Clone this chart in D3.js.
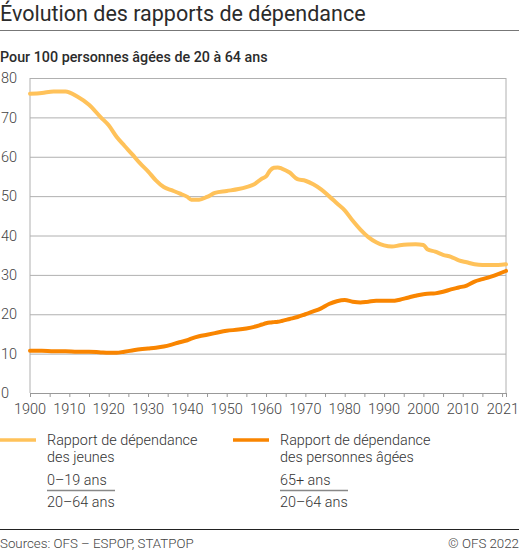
<!DOCTYPE html>
<html>
<head>
<meta charset="utf-8">
<script src="https://cdn.jsdelivr.net/npm/d3@7"></script>
<style>
  body { margin: 0; background: #fff; }
  svg { display: block; font-family: Roboto, "Noto Sans", sans-serif; }
</style>
</head>
<body>
<div id="chart"></div>
<script>
// years, with both ratios read at each
const years = [1900,1903,1906,1909,1912,1915,1918,1920,1922,1924,1926,1928,1930,1932,1934,1936,1938,1940,1941,1943,1945,1947,1950,1953,1955,1957,1959,1960,1961,1962,1963,1964,1966,1968,1970,1972,1974,1976,1978,1980,1982,1984,1986,1988,1990,1992,1994,1996,1998,2000,2001,2003,2005,2007,2009,2011,2013,2015,2017,2019,2021];
const jeunes = [76.0,76.2,76.6,76.6,75.3,73.2,70.0,68.0,65.1,62.8,60.6,58.3,56.3,54.0,52.3,51.5,50.7,49.8,49.1,49.1,49.8,50.8,51.3,51.8,52.3,53.0,54.5,55.0,56.5,57.2,57.3,57.0,56.0,54.3,53.9,53.0,51.7,50.0,48.2,46.4,43.8,41.5,39.6,38.3,37.5,37.2,37.5,37.7,37.8,37.6,36.5,35.9,35.1,34.6,33.7,33.2,32.7,32.5,32.5,32.5,32.7];
const agees = [10.7,10.7,10.6,10.6,10.5,10.5,10.3,10.2,10.2,10.5,10.8,11.1,11.3,11.5,11.8,12.3,12.9,13.4,13.8,14.4,14.8,15.2,15.8,16.1,16.4,16.8,17.4,17.7,17.9,18.0,18.1,18.3,18.8,19.3,20.0,20.7,21.5,22.6,23.3,23.6,23.2,23.0,23.2,23.4,23.4,23.4,23.7,24.2,24.7,25.1,25.2,25.3,25.7,26.3,26.8,27.3,28.3,28.9,29.5,30.2,31.0];

const yTicks = [0,10,20,30,40,50,60,70,80];
const xLabels = [1900,1910,1920,1930,1940,1950,1960,1970,1980,1990,2000,2010,2021];
const xMinor = d3.range(1900, 2021, 5);

const width = 519, height = 554;
const margin = { top: 78, right: 13, bottom: 161, left: 30 };

const svg = d3.select("#chart")
  .append("svg")
  .attr("width", width)
  .attr("height", height);

// title block
svg.append("text")
  .attr("x", 0)
  .attr("y", 21)
  .style("font-size", "21.5px")
  .attr("fill", "#2b2b2b")
  .text("Évolution des rapports de dépendance");

svg.append("line")
  .attr("x1", 0).attr("x2", width)
  .attr("y1", 30.5).attr("y2", 30.5)
  .attr("stroke", "#777").attr("stroke-width", 1.2);

svg.append("text")
  .attr("x", 0)
  .attr("y", 62)
  .style("font-size", "14.3px")
  .style("font-weight", 500)
  .attr("fill", "#2b2b2b")
  .text("Pour 100 personnes âgées de 20 à 64 ans");

const x = d3.scaleLinear()
  .domain([1900, 2021])
  .range([margin.left, width - margin.right]);

const y = d3.scaleLinear()
  .domain([0, 80])
  .range([height - margin.bottom, margin.top]);

// grid + y labels
const yAxis = svg.append("g")
  .attr("transform", `translate(${margin.left},0)`)
  .call(d3.axisLeft(y).tickValues(yTicks).tickSize(-(x.range()[1] - x.range()[0])).tickPadding(8));
yAxis.select(".domain").remove();
yAxis.selectAll(".tick line").attr("stroke", "#b0b0b0").attr("stroke-width", 1);
yAxis.selectAll(".tick text")
  .attr("x", -29)
  .attr("text-anchor", "start")
  .style("font-size", "14.5px")
  .style("font-family", "Roboto, sans-serif")
  .style("font-weight", 300)
  .attr("fill", "#444");

// side frames
svg.append("line")
  .attr("x1", x(1900)).attr("x2", x(1900))
  .attr("y1", y(80)).attr("y2", y(0))
  .attr("stroke", "#b0b0b0");
svg.append("line")
  .attr("x1", x(2021)).attr("x2", x(2021))
  .attr("y1", y(80)).attr("y2", y(0))
  .attr("stroke", "#b0b0b0");

// x axis
const xAxis = svg.append("g")
  .attr("transform", `translate(0,${y(0)})`)
  .call(d3.axisBottom(x).tickValues(xMinor.concat([2021])).tickSize(4).tickFormat(""));
xAxis.select(".domain").attr("stroke", "#999");
xAxis.selectAll(".tick line").attr("stroke", "#999");

svg.append("g")
  .selectAll("text")
  .data(xLabels)
  .join("text")
  .attr("x", d => x(d))
  .attr("y", y(0) + 21)
  .attr("text-anchor", d => d === 2021 ? "end" : "middle")
  .attr("dx", d => d === 2021 ? 13 : 0)
  .style("font-size", "14.5px")
  .style("font-weight", 300)
  .attr("fill", "#444")
  .text(d => d);

// lines
const series = [
  { values: jeunes, color: "#ffc25a" },
  { values: agees, color: "#f98500" }
];

series.forEach(s => {
  const line = d3.line()
    .x((d, i) => x(years[i]))
    .y(d => y(d))
    .curve(d3.curveMonotoneX);
  svg.append("path")
    .datum(s.values)
    .attr("d", line)
    .attr("fill", "none")
    .attr("stroke", s.color)
    .attr("stroke-width", 4)
    .attr("stroke-linejoin", "round")
    .attr("stroke-linecap", "round");
});

// legend
const legend = [
  { x: 0, color: "#ffc25a", l1: "Rapport de dépendance", l2: "des jeunes", num: "0–19 ans", den: "20–64 ans" },
  { x: 233, color: "#f98500", l1: "Rapport de dépendance", l2: "des personnes âgées", num: "65+ ans", den: "20–64 ans" }
];

legend.forEach(l => {
  const g = svg.append("g").attr("transform", `translate(${l.x},0)`);
  g.append("line")
    .attr("x1", 0).attr("x2", 36)
    .attr("y1", 440).attr("y2", 440)
    .attr("stroke", l.color).attr("stroke-width", 3.5);
  const tx = 47;
  const txt = (yy, s) => g.append("text")
    .attr("x", tx).attr("y", yy)
    .style("font-size", "14.4px")
    .style("font-weight", 300)
    .attr("fill", "#333")
    .text(s);
  txt(445, l.l1);
  txt(462, l.l2);
  txt(485, l.num);
  txt(507, l.den);
  g.append("line")
    .attr("x1", tx).attr("x2", tx + 68)
    .attr("y1", 490.5).attr("y2", 490.5)
    .attr("stroke", "#888").attr("stroke-width", 1.5);
});

// footer
svg.append("line")
  .attr("x1", 0).attr("x2", width)
  .attr("y1", 529.5).attr("y2", 529.5)
  .attr("stroke", "#222").attr("stroke-width", 1);

svg.append("text")
  .attr("x", 0).attr("y", 548)
  .style("font-size", "13.3px")
  .style("font-weight", 300)
  .attr("fill", "#444")
  .text("Sources: OFS – ESPOP, STATPOP");

svg.append("text")
  .attr("x", width).attr("y", 548)
  .attr("text-anchor", "end")
  .style("font-size", "13.3px")
  .style("font-weight", 300)
  .attr("fill", "#444")
  .text("© OFS 2022");
</script>
</body>
</html>
